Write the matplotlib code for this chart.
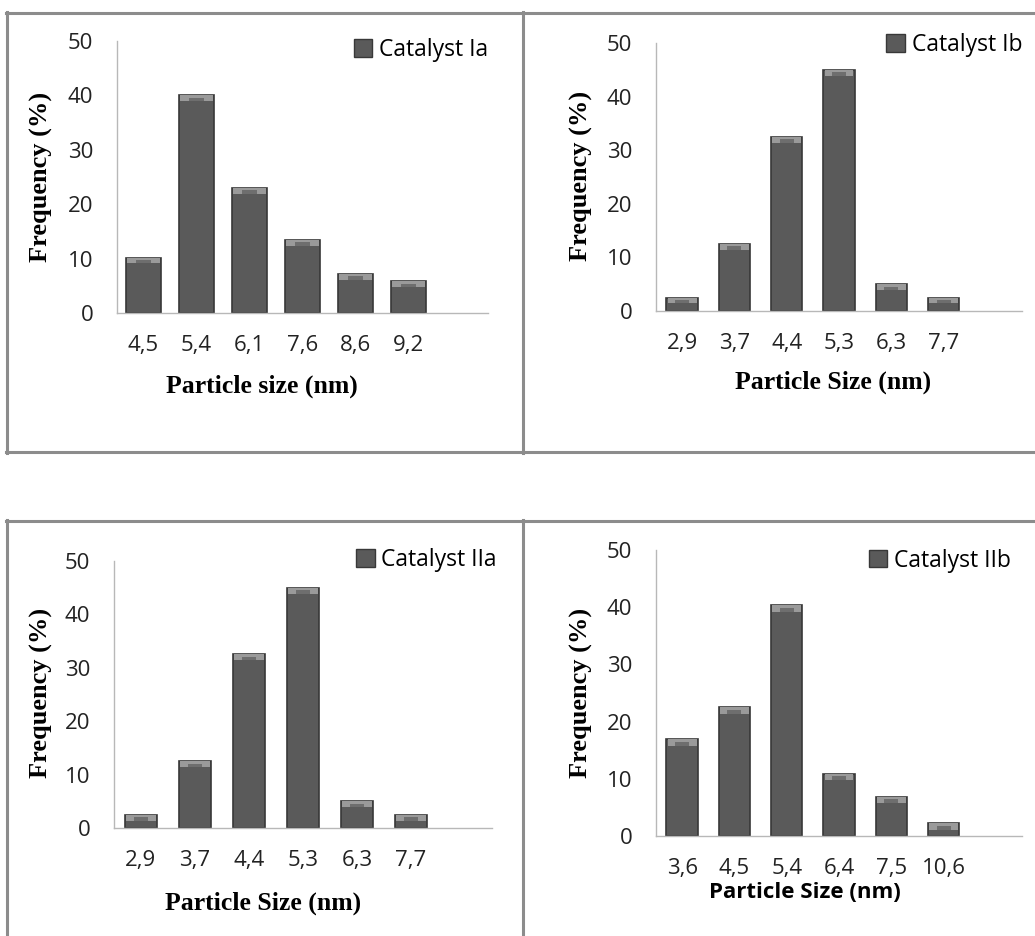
import matplotlib
matplotlib.use("Agg")
import matplotlib.pyplot as plt
from matplotlib.lines import Line2D
from matplotlib.patches import Patch
import numpy as np

# ---- data ----
sizes_Ia = ["4,5", "5,4", "6,1", "7,6", "8,6", "9,2"]
freq_Ia = [10.2, 40.0, 23.0, 13.5, 7.2, 5.8]

sizes_Ib = ["2,9", "3,7", "4,4", "5,3", "6,3", "7,7"]
freq_Ib = [2.5, 12.5, 32.5, 45.0, 5.0, 2.5]

sizes_IIa = ["2,9", "3,7", "4,4", "5,3", "6,3", "7,7"]
freq_IIa = [2.5, 12.5, 32.5, 45.0, 5.0, 2.5]

sizes_IIb = ["3,6", "4,5", "5,4", "6,4", "7,5", "10,6"]
freq_IIb = [16.9, 22.5, 40.3, 10.9, 6.9, 2.2]

legend_names = ["Catalyst Ia", "Catalyst Ib", "Catalyst IIa", "Catalyst IIb"]
xlabels = ["Particle size (nm)", "Particle Size (nm)", "Particle Size (nm)", "Particle Size (nm)"]
ylabel = "Frequency (%)"
yticks = [0, 10, 20, 30, 40, 50]

W, H = 1035, 936
fig = plt.figure(figsize=(W / 100, H / 100), dpi=100)
fig.patch.set_facecolor("white")

# panel geometry in pixels: (left, right, y_of_50, y_of_0)
geoms = [
    (117, 488, 41, 313),
    (656, 1022, 43, 311),
    (114, 492, 561, 828),
    (656, 1022, 550, 836),
]
bar_widths = [0.67, 0.6, 0.6, 0.6]
xlabel_pos = [(0.39, -0.228), (0.485, -0.223), (0.395, -0.238), (0.408, -0.162)]
ylabel_pos = [(-0.173, 0.50), (-0.172, 0.505), (-0.162, 0.505), (-0.172, 0.50)]
legend_pos = [(1.0, 0.967), (1.0, 0.993), (1.013, 1.003), (0.97, 0.963)]

datasets = [(sizes_Ia, freq_Ia), (sizes_Ib, freq_Ib), (sizes_IIa, freq_IIa), (sizes_IIb, freq_IIb)]

tick_font = "Open Sans"
serif = "Liberation Serif"
bar_color = "#5a5a5a"
edge_color = "#383838"
bevel_color = "#9a9a9a"
axis_color = "#b8b8b8"
text_color = "#222222"

for i, ((cats, vals), (l, r, y50, y0)) in enumerate(zip(datasets, geoms)):
    ax = fig.add_axes([l / W, (H - y0) / H, (r - l) / W, (y0 - y50) / H])
    x = np.arange(len(cats))
    bw = bar_widths[i]
    ax.bar(x, vals, width=bw, color=bar_color, edgecolor=edge_color, linewidth=1.2, zorder=2)
    bevel = 1.1
    v = np.array(vals)
    ax.bar(x, np.full(len(v), bevel), bottom=v - bevel, width=bw * 0.92,
           color=bevel_color, linewidth=0, zorder=3)
    ax.bar(x, np.full(len(v), bevel * 0.6), bottom=v - bevel, width=bw * 0.45,
           color="#6e6e6e", linewidth=0, zorder=4)
    ax.set_xlim(-0.5, 6.5)
    ax.set_ylim(0, 50)
    ax.set_xticks(x)
    ax.set_xticklabels(cats)
    ax.set_yticks(yticks)
    ax.tick_params(axis="both", length=0, labelsize=16, colors=text_color)
    ax.tick_params(axis="x", pad=16)
    ax.tick_params(axis="y", pad=17)
    for lab in ax.get_xticklabels() + ax.get_yticklabels():
        lab.set_fontfamily(tick_font)
    for s in ["top", "right"]:
        ax.spines[s].set_visible(False)
    for s in ["left", "bottom"]:
        ax.spines[s].set_color(axis_color)
        ax.spines[s].set_linewidth(1.0)
    ax.set_facecolor("none")

    if i == 3:
        ax.set_xlabel(xlabels[i], fontsize=16, fontweight="bold", fontfamily=tick_font, color="black")
    else:
        ax.set_xlabel(xlabels[i], fontsize=18.5, fontweight="bold", fontfamily=serif, color="black")
    ax.xaxis.set_label_coords(*xlabel_pos[i])
    ax.set_ylabel(ylabel, fontsize=19, fontweight="bold", fontfamily=serif, color="black")
    ax.yaxis.set_label_coords(*ylabel_pos[i])

    handle = Patch(facecolor=bar_color, edgecolor=edge_color, linewidth=1.0)
    ax.legend([handle], [legend_names[i]], loc="center right", bbox_to_anchor=legend_pos[i],
              frameon=False, borderpad=0, borderaxespad=0, handlelength=0.8, handleheight=0.8,
              handletextpad=0.3, prop={"family": tick_font, "size": 16.5})

# panel frames
bc = "#8c8c8c"
lw = 2.2
def hline(y, x0, x1):
    fig.add_artist(Line2D([x0 / W, x1 / W], [1 - y / H, 1 - y / H], color=bc, lw=lw))
def vline(x, y0, y1):
    fig.add_artist(Line2D([x / W, x / W], [1 - y0 / H, 1 - y1 / H], color=bc, lw=lw))

hline(13, 6, W)
hline(452, 6, W)
vline(7, 12, 453)
vline(523, 12, 453)
hline(521, 6, W)
vline(7, 520, H)
vline(523, 520, H)

fig.savefig("out.png", dpi=100, facecolor="white")
